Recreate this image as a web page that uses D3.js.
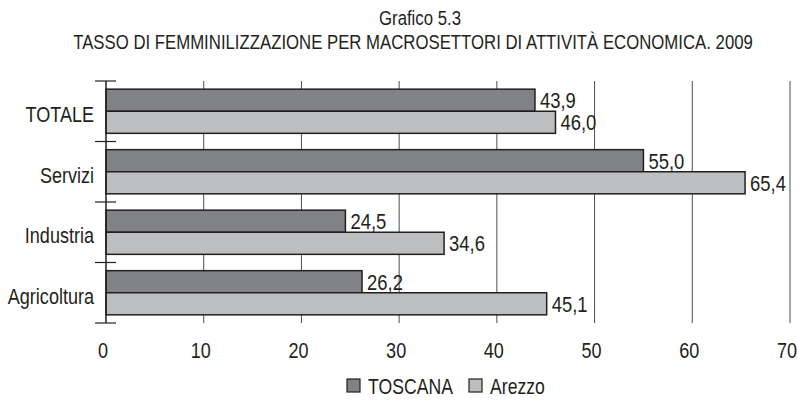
<!DOCTYPE html>
<html>
<head>
<meta charset="utf-8">
<script src="https://cdn.jsdelivr.net/npm/d3@7"></script>
<style>
  body { margin: 0; background: #fff; }
  text { font-family: "Liberation Sans", Arial, sans-serif; fill: #231f20; }
</style>
</head>
<body>
<div id="chart"></div>
<script>
// Data
const categories = ['TOTALE', 'Servizi', 'Industria', 'Agricoltura'];
const series = ['TOSCANA', 'Arezzo'];
const toscana = [43.9, 55.0, 24.5, 26.2];
const arezzo = [46.0, 65.4, 34.6, 45.1];
const xTicks = [0, 10, 20, 30, 40, 50, 60, 70];

const width = 798;
const height = 402;
const margin = {top: 81, right: 8, bottom: 79, left: 106};

// The original uses a condensed face, so squeeze the text horizontally
const narrow = 0.82;

const svg = d3.select('#chart')
  .append('svg')
  .attr('width', width)
  .attr('height', height);

// Place a text node at (x, y) and squeeze it
function place(sel, fx, fy, sx) {
  sel.attr('transform', (d, i) => 'translate(' + fx(d, i) + ',' + fy(d, i) + ') scale(' + sx + ',1)');
}

// Titles
svg.append('text')
  .attr('text-anchor', 'middle')
  .style('font-size', '19.5px')
  .text('Grafico 5.3')
  .call(place, () => 420, () => 25, 0.86);
svg.append('text')
  .attr('text-anchor', 'middle')
  .style('font-size', '19.5px')
  .text('TASSO DI FEMMINILIZZAZIONE PER MACROSETTORI DI ATTIVITÀ ECONOMICA. 2009')
  .call(place, () => 413, () => 49, 0.86);

// Scales
const x = d3.scaleLinear()
  .domain([0, 70])
  .range([margin.left, 790]);

const y = d3.scaleBand()
  .domain(categories)
  .range([margin.top, height - margin.bottom])
  .paddingInner(0.27)
  .paddingOuter(0.135);

const ySub = d3.scaleBand()
  .domain(series)
  .range([0, y.bandwidth()]);

const color = d3.scaleOrdinal()
  .domain(series)
  .range(['#808285', '#bcbec0']);

const plotTop = margin.top;
const plotBottom = height - margin.bottom;
const step = (plotBottom - plotTop) / categories.length;

// Vertical gridlines
svg.append('g')
  .selectAll('line')
  .data(xTicks.slice(1))
  .enter().append('line')
  .attr('x1', (d) => x(d)).attr('x2', (d) => x(d))
  .attr('y1', plotTop).attr('y2', plotBottom)
  .attr('stroke', '#4d4d4f')
  .attr('stroke-width', 1);

// Bars
const rows = categories.map((c, i) => ({cat: c, values: [toscana[i], arezzo[i]]}));

const groups = svg.append('g')
  .selectAll('g')
  .data(rows)
  .enter().append('g')
  .attr('transform', (d) => 'translate(0,' + y(d.cat) + ')');

groups.selectAll('rect')
  .data((d) => d.values.map((v, j) => ({key: series[j], value: v})))
  .enter().append('rect')
  .attr('x', x(0))
  .attr('y', (d) => ySub(d.key))
  .attr('width', (d) => x(d.value) - x(0))
  .attr('height', ySub.bandwidth())
  .attr('fill', (d) => color(d.key))
  .attr('stroke', '#231f20')
  .attr('stroke-width', 1.5);

// Value labels
groups.selectAll('.value')
  .data((d) => d.values.map((v, j) => ({key: series[j], value: v})))
  .enter().append('text')
  .attr('class', 'value')
  .attr('dy', '0.36em')
  .style('font-size', '22.5px')
  .text((d) => d3.format('.1f')(d.value).replace('.', ','))
  .call(place, (d) => x(d.value) + 5, (d) => ySub(d.key) + ySub.bandwidth() / 2, narrow);

// Left axis line and category ticks
svg.append('line')
  .attr('x1', x(0)).attr('x2', x(0))
  .attr('y1', plotTop).attr('y2', plotBottom)
  .attr('stroke', '#231f20')
  .attr('stroke-width', 1.5);

svg.append('g')
  .selectAll('line')
  .data(d3.range(categories.length + 1))
  .enter().append('line')
  .attr('x1', x(0) - 11).attr('x2', x(0) + 10)
  .attr('y1', (d) => plotTop + d * step)
  .attr('y2', (d) => plotTop + d * step)
  .attr('stroke', '#231f20')
  .attr('stroke-width', 1.2);

// Category labels
svg.append('g')
  .selectAll('text')
  .data(categories)
  .enter().append('text')
  .attr('dy', '0.36em')
  .attr('text-anchor', 'end')
  .style('font-size', '22px')
  .text((d) => d)
  .call(place, () => 94, (d) => y(d) + y.bandwidth() / 2 + 3, narrow);

// X tick labels
svg.append('g')
  .selectAll('text')
  .data(xTicks)
  .enter().append('text')
  .attr('text-anchor', 'middle')
  .style('font-size', '22px')
  .text((d) => d)
  .call(place, (d) => x(d) - 3, () => 358, narrow);

// Legend
const legendX = [347, 469];
const legend = svg.append('g')
  .selectAll('g')
  .data(series)
  .enter().append('g')
  .attr('transform', (d, i) => 'translate(' + legendX[i] + ',379)');

legend.append('rect')
  .attr('width', 13).attr('height', 13)
  .attr('fill', (d) => color(d))
  .attr('stroke', '#231f20')
  .attr('stroke-width', 1.2);

legend.append('text')
  .attr('dy', '0.36em')
  .style('font-size', '21.5px')
  .text((d) => d)
  .call(place, () => 21, () => 7, narrow);
</script>
</body>
</html>
